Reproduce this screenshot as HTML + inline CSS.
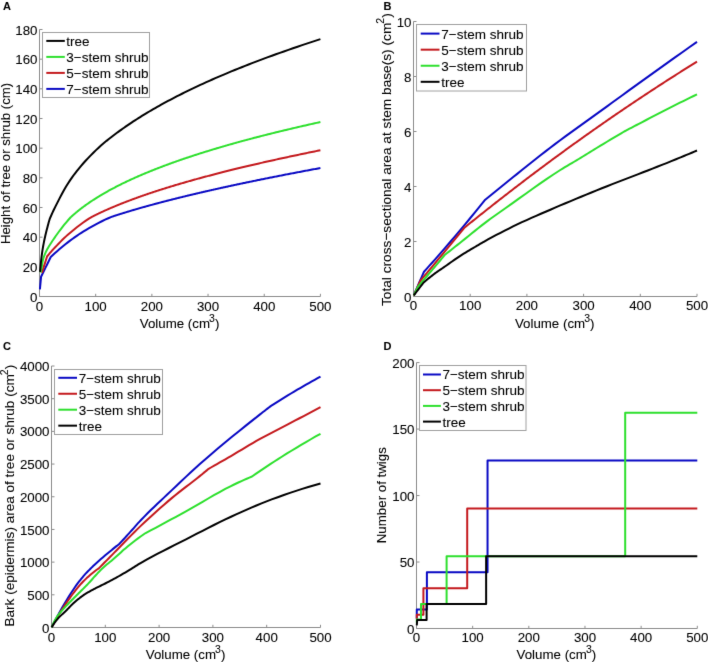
<!DOCTYPE html>
<html><head><meta charset="utf-8"><style>
html,body{margin:0;padding:0;background:#fff;}
svg{display:block;}
text{font-family:"Liberation Sans", sans-serif;fill:#000;stroke:#000;stroke-width:0.08;}
</style></head><body>
<svg width="708" height="662" viewBox="0 0 708 662">
<defs><filter id="bl" x="-5%" y="-5%" width="110%" height="110%" color-interpolation-filters="sRGB"><feConvolveMatrix order="3" kernelMatrix="0.00640 0.06720 0.00640 0.06720 0.70560 0.06720 0.00640 0.06720 0.00640" divisor="1" edgeMode="duplicate" preserveAlpha="false"/></filter></defs>
<g filter="url(#bl)">
<rect width="708" height="662" fill="#fff"/>
<path d="M39.50,29.50V296.50H320.40" fill="none" stroke="#8c8c8c" stroke-width="1"/>
<path d="M39.50,296.50h3M39.50,266.83h3M39.50,237.17h3M39.50,207.50h3M39.50,177.83h3M39.50,148.17h3M39.50,118.50h3M39.50,88.83h3M39.50,59.17h3M39.50,29.50h3M39.50,296.50v-2.7M95.68,296.50v-2.7M151.86,296.50v-2.7M208.04,296.50v-2.7M264.22,296.50v-2.7M320.40,296.50v-2.7" fill="none" stroke="#8c8c8c" stroke-width="1"/>
<text x="37.50" y="301.60" text-anchor="end" font-size="13.3">0</text>
<text x="37.50" y="271.93" text-anchor="end" font-size="13.3">20</text>
<text x="37.50" y="242.27" text-anchor="end" font-size="13.3">40</text>
<text x="37.50" y="212.60" text-anchor="end" font-size="13.3">60</text>
<text x="37.50" y="182.93" text-anchor="end" font-size="13.3">80</text>
<text x="37.50" y="153.27" text-anchor="end" font-size="13.3">100</text>
<text x="37.50" y="123.60" text-anchor="end" font-size="13.3">120</text>
<text x="37.50" y="93.93" text-anchor="end" font-size="13.3">140</text>
<text x="37.50" y="64.27" text-anchor="end" font-size="13.3">160</text>
<text x="37.50" y="34.60" text-anchor="end" font-size="13.3">180</text>
<text x="39.50" y="311.00" text-anchor="middle" font-size="13.3">0</text>
<text x="95.68" y="311.00" text-anchor="middle" font-size="13.3">100</text>
<text x="151.86" y="311.00" text-anchor="middle" font-size="13.3">200</text>
<text x="208.04" y="311.00" text-anchor="middle" font-size="13.3">300</text>
<text x="264.22" y="311.00" text-anchor="middle" font-size="13.3">400</text>
<text x="320.40" y="311.00" text-anchor="middle" font-size="13.3">500</text>
<path d="M39.89,289.38 L40.04,287.80 L40.19,286.23 L40.34,284.65 L40.48,283.08 L40.63,281.50 L40.78,279.92 L40.93,278.35 L41.07,276.77 L42.28,274.31 L43.49,271.84 L44.70,269.37 L45.90,266.91 L47.11,264.44 L48.32,261.98 L49.53,259.51 L50.74,257.04 L52.87,255.05 L55.01,253.09 L57.14,251.18 L59.28,249.31 L61.41,247.50 L63.55,245.73 L65.68,244.02 L67.81,242.36 L70.06,240.66 L72.31,239.00 L74.56,237.39 L76.80,235.82 L79.05,234.29 L81.30,232.82 L83.55,231.41 L85.79,230.05 L89.01,228.17 L92.22,226.34 L95.44,224.57 L98.66,222.87 L101.87,221.24 L105.09,219.68 L108.31,218.22 L111.52,216.84 L111.83,216.74 L112.15,216.64 L112.46,216.54 L112.77,216.43 L113.08,216.33 L113.39,216.23 L113.70,216.13 L114.02,216.02 L114.34,215.92 L114.66,215.81 L114.98,215.71 L115.31,215.61 L115.63,215.50 L115.95,215.40 L116.27,215.29 L116.59,215.19 L116.93,215.08 L117.26,214.98 L117.60,214.87 L117.93,214.76 L118.26,214.66 L118.60,214.55 L118.93,214.44 L119.26,214.34 L119.61,214.23 L119.95,214.12 L120.30,214.01 L120.64,213.90 L120.99,213.79 L121.33,213.69 L121.68,213.58 L122.02,213.47 L122.38,213.36 L122.74,213.25 L123.09,213.14 L123.45,213.03 L123.81,212.92 L124.17,212.81 L124.52,212.70 L124.88,212.59 L125.25,212.47 L125.62,212.36 L125.99,212.25 L126.36,212.13 L126.73,212.02 L127.10,211.91 L127.47,211.80 L127.83,211.69 L128.22,211.57 L128.60,211.45 L128.98,211.34 L129.36,211.22 L129.75,211.11 L130.13,211.00 L130.51,210.88 L130.89,210.77 L131.29,210.65 L131.68,210.53 L132.08,210.41 L132.47,210.30 L132.87,210.18 L133.26,210.06 L133.66,209.95 L134.06,209.83 L134.46,209.71 L134.87,209.59 L135.28,209.47 L135.69,209.35 L136.10,209.23 L136.51,209.12 L136.92,209.00 L137.33,208.88 L137.75,208.76 L138.17,208.63 L138.60,208.51 L139.02,208.39 L139.44,208.27 L139.87,208.15 L140.29,208.03 L140.71,207.91 L141.15,207.78 L141.59,207.66 L142.03,207.53 L142.47,207.41 L142.90,207.29 L143.34,207.16 L143.78,207.04 L144.22,206.92 L144.67,206.79 L145.12,206.66 L145.58,206.54 L146.03,206.41 L146.48,206.28 L146.94,206.16 L147.39,206.03 L147.84,205.91 L148.31,205.78 L148.78,205.65 L149.25,205.52 L149.72,205.39 L150.18,205.26 L150.65,205.13 L151.12,205.01 L151.59,204.88 L152.08,204.75 L152.56,204.61 L153.05,204.48 L153.53,204.35 L154.02,204.22 L154.50,204.09 L154.99,203.96 L155.47,203.83 L155.97,203.70 L156.47,203.56 L156.98,203.43 L157.48,203.29 L157.98,203.16 L158.48,203.03 L158.98,202.89 L159.48,202.76 L160.00,202.62 L160.52,202.49 L161.04,202.35 L161.56,202.21 L162.08,202.08 L162.60,201.94 L163.12,201.81 L163.64,201.67 L164.17,201.53 L164.71,201.39 L165.25,201.25 L165.79,201.11 L166.32,200.98 L166.86,200.84 L167.40,200.70 L167.93,200.56 L168.49,200.42 L169.05,200.28 L169.60,200.14 L170.16,199.99 L170.71,199.85 L171.27,199.71 L171.82,199.57 L172.38,199.43 L172.95,199.28 L173.53,199.14 L174.10,199.00 L174.68,198.85 L175.25,198.71 L175.83,198.56 L176.40,198.42 L176.98,198.28 L177.57,198.13 L178.17,197.98 L178.76,197.83 L179.36,197.69 L179.95,197.54 L180.55,197.39 L181.14,197.25 L181.74,197.10 L182.35,196.95 L182.97,196.80 L183.58,196.65 L184.20,196.50 L184.81,196.35 L185.43,196.20 L186.04,196.05 L186.66,195.90 L187.30,195.75 L187.93,195.59 L188.57,195.44 L189.21,195.29 L189.84,195.13 L190.48,194.98 L191.12,194.83 L191.75,194.68 L192.41,194.52 L193.07,194.36 L193.73,194.21 L194.39,194.05 L195.05,193.90 L195.70,193.74 L196.36,193.59 L197.02,193.43 L197.70,193.27 L198.39,193.11 L199.07,192.95 L199.75,192.79 L200.43,192.64 L201.11,192.48 L201.79,192.32 L202.47,192.16 L203.18,192.00 L203.88,191.84 L204.59,191.67 L205.29,191.51 L206.00,191.35 L206.70,191.19 L207.41,191.03 L208.11,190.87 L208.84,190.70 L209.57,190.53 L210.30,190.37 L211.03,190.20 L211.76,190.04 L212.49,189.87 L213.22,189.71 L213.95,189.54 L214.71,189.38 L215.46,189.21 L216.22,189.04 L216.97,188.87 L217.72,188.70 L218.48,188.53 L219.23,188.36 L219.99,188.20 L220.77,188.02 L221.55,187.85 L222.33,187.68 L223.11,187.51 L223.89,187.34 L224.67,187.17 L225.45,186.99 L226.24,186.82 L227.04,186.65 L227.85,186.47 L228.66,186.30 L229.47,186.12 L230.28,185.95 L231.08,185.77 L231.89,185.60 L232.70,185.42 L233.53,185.24 L234.37,185.06 L235.21,184.89 L236.04,184.71 L236.88,184.53 L237.71,184.35 L238.55,184.17 L239.39,183.99 L240.25,183.81 L241.12,183.63 L241.98,183.45 L242.84,183.26 L243.71,183.08 L244.57,182.90 L245.44,182.72 L246.30,182.54 L247.20,182.35 L248.09,182.16 L248.99,181.98 L249.88,181.79 L250.78,181.61 L251.67,181.42 L252.57,181.24 L253.46,181.05 L254.39,180.86 L255.31,180.67 L256.24,180.48 L257.16,180.29 L258.09,180.10 L259.02,179.91 L259.94,179.73 L260.87,179.54 L261.82,179.34 L262.78,179.15 L263.74,178.95 L264.70,178.76 L265.66,178.57 L266.61,178.38 L267.57,178.18 L268.53,177.99 L269.52,177.79 L270.51,177.60 L271.50,177.40 L272.49,177.20 L273.48,177.00 L274.47,176.81 L275.46,176.61 L276.46,176.41 L277.48,176.21 L278.51,176.01 L279.53,175.81 L280.56,175.61 L281.58,175.41 L282.61,175.21 L283.63,175.01 L284.66,174.81 L285.72,174.60 L286.78,174.39 L287.84,174.19 L288.90,173.98 L289.96,173.78 L291.02,173.57 L292.08,173.37 L293.14,173.17 L294.24,172.96 L295.34,172.75 L296.43,172.54 L297.53,172.33 L298.63,172.12 L299.73,171.91 L300.82,171.70 L301.92,171.49 L303.06,171.28 L304.19,171.06 L305.33,170.85 L306.46,170.64 L307.60,170.42 L308.73,170.21 L309.87,170.00 L311.00,169.79 L312.18,169.57 L313.35,169.35 L314.53,169.13 L315.70,168.91 L316.88,168.69 L318.05,168.48 L319.23,168.26 L320.40,168.04" fill="none" stroke="#0909c4" stroke-width="2" stroke-linejoin="round"/>
<path d="M41.92,272.77 L42.56,270.73 L43.21,268.69 L43.85,266.65 L44.50,264.61 L45.15,262.57 L45.79,260.53 L46.44,258.49 L47.08,256.45 L47.87,255.51 L48.66,254.57 L49.44,253.64 L50.23,252.72 L51.02,251.81 L51.80,250.92 L52.59,250.04 L53.38,249.18 L55.18,247.24 L56.99,245.32 L58.79,243.44 L60.60,241.59 L62.40,239.80 L64.21,238.06 L66.01,236.39 L67.81,234.79 L70.83,232.23 L73.84,229.73 L76.85,227.31 L79.87,224.99 L82.88,222.77 L85.89,220.66 L88.90,218.69 L91.92,216.84 L92.20,216.70 L92.48,216.56 L92.76,216.41 L93.04,216.27 L93.32,216.13 L93.60,215.99 L93.88,215.85 L94.16,215.71 L94.46,215.56 L94.75,215.41 L95.04,215.27 L95.33,215.12 L95.63,214.98 L95.92,214.83 L96.21,214.69 L96.51,214.55 L96.81,214.40 L97.12,214.25 L97.42,214.10 L97.73,213.95 L98.03,213.80 L98.34,213.66 L98.64,213.51 L98.95,213.37 L99.27,213.21 L99.59,213.06 L99.90,212.91 L100.22,212.76 L100.54,212.61 L100.86,212.46 L101.18,212.31 L101.50,212.16 L101.83,212.01 L102.16,211.86 L102.49,211.70 L102.83,211.55 L103.16,211.40 L103.49,211.24 L103.82,211.09 L104.15,210.94 L104.50,210.78 L104.85,210.63 L105.19,210.47 L105.54,210.31 L105.89,210.16 L106.23,210.00 L106.58,209.85 L106.93,209.70 L107.29,209.53 L107.65,209.38 L108.01,209.22 L108.37,209.06 L108.73,208.90 L109.09,208.74 L109.45,208.58 L109.82,208.43 L110.19,208.26 L110.57,208.10 L110.95,207.94 L111.32,207.78 L111.70,207.62 L112.08,207.46 L112.45,207.30 L112.83,207.14 L113.22,206.97 L113.62,206.80 L114.01,206.64 L114.40,206.47 L114.79,206.31 L115.19,206.15 L115.58,205.98 L115.97,205.82 L116.38,205.65 L116.79,205.48 L117.20,205.32 L117.61,205.15 L118.02,204.98 L118.43,204.81 L118.84,204.65 L119.25,204.48 L119.68,204.31 L120.11,204.14 L120.53,203.97 L120.96,203.80 L121.39,203.63 L121.81,203.46 L122.24,203.29 L122.67,203.12 L123.11,202.94 L123.56,202.77 L124.01,202.59 L124.45,202.42 L124.90,202.25 L125.34,202.07 L125.79,201.90 L126.23,201.73 L126.70,201.55 L127.16,201.37 L127.63,201.20 L128.09,201.02 L128.56,200.84 L129.02,200.67 L129.49,200.49 L129.95,200.32 L130.44,200.14 L130.92,199.95 L131.41,199.77 L131.89,199.59 L132.37,199.41 L132.86,199.23 L133.34,199.06 L133.83,198.88 L134.33,198.69 L134.84,198.51 L135.35,198.32 L135.85,198.14 L136.36,197.96 L136.86,197.77 L137.37,197.59 L137.87,197.41 L138.40,197.22 L138.93,197.03 L139.45,196.85 L139.98,196.66 L140.51,196.47 L141.03,196.29 L141.56,196.10 L142.09,195.92 L142.64,195.72 L143.19,195.53 L143.74,195.34 L144.29,195.15 L144.84,194.96 L145.39,194.77 L145.94,194.58 L146.49,194.40 L147.06,194.20 L147.63,194.00 L148.21,193.81 L148.78,193.62 L149.35,193.42 L149.93,193.23 L150.50,193.04 L151.07,192.85 L151.67,192.65 L152.27,192.45 L152.86,192.25 L153.46,192.05 L154.06,191.86 L154.66,191.66 L155.26,191.46 L155.85,191.27 L156.48,191.06 L157.10,190.86 L157.72,190.66 L158.35,190.46 L158.97,190.26 L159.59,190.06 L160.22,189.86 L160.84,189.66 L161.49,189.45 L162.14,189.25 L162.79,189.04 L163.44,188.84 L164.09,188.63 L164.74,188.43 L165.39,188.22 L166.04,188.02 L166.72,187.81 L167.40,187.60 L168.08,187.39 L168.75,187.18 L169.43,186.97 L170.11,186.77 L170.79,186.56 L171.47,186.35 L172.17,186.14 L172.88,185.92 L173.59,185.71 L174.29,185.50 L175.00,185.29 L175.71,185.07 L176.42,184.86 L177.12,184.65 L177.86,184.43 L178.60,184.22 L179.33,184.00 L180.07,183.78 L180.81,183.56 L181.55,183.35 L182.28,183.13 L183.02,182.92 L183.79,182.70 L184.56,182.47 L185.33,182.25 L186.10,182.03 L186.87,181.81 L187.64,181.59 L188.40,181.37 L189.17,181.15 L189.97,180.93 L190.78,180.70 L191.58,180.48 L192.38,180.25 L193.18,180.03 L193.98,179.80 L194.79,179.58 L195.59,179.36 L196.42,179.13 L197.26,178.89 L198.10,178.66 L198.93,178.44 L199.77,178.21 L200.61,177.98 L201.44,177.75 L202.28,177.52 L203.15,177.29 L204.02,177.05 L204.90,176.82 L205.77,176.59 L206.64,176.35 L207.51,176.12 L208.38,175.89 L209.26,175.66 L210.17,175.42 L211.08,175.18 L211.98,174.94 L212.89,174.70 L213.80,174.46 L214.71,174.23 L215.62,173.99 L216.53,173.75 L217.48,173.51 L218.43,173.27 L219.38,173.02 L220.33,172.78 L221.27,172.54 L222.22,172.30 L223.17,172.05 L224.12,171.81 L225.11,171.57 L226.10,171.32 L227.09,171.07 L228.08,170.82 L229.07,170.57 L230.06,170.33 L231.04,170.08 L232.03,169.84 L233.07,169.58 L234.10,169.33 L235.13,169.08 L236.16,168.83 L237.19,168.57 L238.22,168.32 L239.25,168.07 L240.29,167.82 L241.36,167.57 L242.44,167.31 L243.51,167.05 L244.59,166.79 L245.67,166.54 L246.74,166.28 L247.82,166.03 L248.89,165.77 L250.01,165.51 L251.14,165.24 L252.26,164.98 L253.38,164.72 L254.50,164.46 L255.62,164.20 L256.75,163.94 L257.87,163.68 L259.04,163.41 L260.21,163.14 L261.38,162.87 L262.55,162.61 L263.72,162.34 L264.89,162.08 L266.06,161.81 L267.23,161.55 L268.45,161.27 L269.67,161.00 L270.89,160.73 L272.11,160.45 L273.33,160.18 L274.55,159.91 L275.77,159.64 L276.99,159.37 L278.26,159.09 L279.53,158.81 L280.81,158.54 L282.08,158.26 L283.35,157.98 L284.62,157.71 L285.90,157.43 L287.17,157.16 L288.50,156.87 L289.82,156.59 L291.15,156.30 L292.48,156.02 L293.80,155.74 L295.13,155.46 L296.46,155.18 L297.78,154.90 L299.17,154.61 L300.55,154.32 L301.94,154.03 L303.32,153.74 L304.70,153.45 L306.09,153.17 L307.47,152.88 L308.85,152.59 L310.30,152.30 L311.74,152.00 L313.18,151.71 L314.63,151.41 L316.07,151.12 L317.51,150.83 L318.96,150.54 L320.40,150.25" fill="none" stroke="#c41a1e" stroke-width="2" stroke-linejoin="round"/>
<path d="M40.51,272.47 L40.58,272.19 L40.65,271.90 L40.72,271.62 L40.79,271.33 L40.86,271.03 L40.93,270.73 L41.00,270.42 L41.07,270.10 L41.33,268.86 L41.58,267.49 L41.83,266.06 L42.08,264.59 L42.34,263.15 L42.59,261.77 L42.84,260.51 L43.10,259.42 L43.21,258.98 L43.32,258.57 L43.43,258.17 L43.54,257.79 L43.66,257.43 L43.77,257.09 L43.88,256.76 L43.99,256.45 L44.27,255.75 L44.54,255.05 L44.82,254.37 L45.09,253.70 L45.36,253.05 L45.64,252.42 L45.91,251.83 L46.19,251.26 L46.84,249.99 L47.49,248.79 L48.14,247.66 L48.80,246.58 L49.45,245.54 L50.10,244.52 L50.76,243.52 L51.41,242.51 L52.50,240.83 L53.59,239.19 L54.68,237.59 L55.76,236.02 L56.85,234.48 L57.94,232.97 L59.03,231.49 L60.12,230.05 L61.44,228.33 L62.76,226.64 L64.08,224.99 L65.40,223.37 L66.72,221.79 L68.04,220.25 L69.36,218.75 L70.68,217.29 L70.90,217.09 L71.12,216.88 L71.34,216.68 L71.56,216.48 L71.78,216.28 L72.00,216.08 L72.22,215.88 L72.44,215.69 L72.67,215.48 L72.91,215.27 L73.14,215.07 L73.37,214.86 L73.60,214.66 L73.84,214.46 L74.07,214.25 L74.30,214.05 L74.55,213.84 L74.79,213.63 L75.04,213.42 L75.29,213.21 L75.53,213.00 L75.78,212.80 L76.02,212.59 L76.27,212.39 L76.53,212.17 L76.79,211.96 L77.05,211.74 L77.31,211.53 L77.57,211.32 L77.83,211.11 L78.09,210.90 L78.35,210.69 L78.62,210.47 L78.89,210.25 L79.17,210.03 L79.44,209.81 L79.72,209.60 L79.99,209.38 L80.27,209.17 L80.54,208.96 L80.83,208.73 L81.12,208.51 L81.41,208.29 L81.70,208.07 L81.99,207.85 L82.28,207.63 L82.57,207.41 L82.86,207.19 L83.16,206.96 L83.47,206.74 L83.78,206.51 L84.08,206.28 L84.39,206.06 L84.70,205.84 L85.00,205.61 L85.31,205.39 L85.63,205.16 L85.96,204.93 L86.28,204.70 L86.60,204.47 L86.93,204.24 L87.25,204.01 L87.57,203.78 L87.90,203.56 L88.24,203.32 L88.58,203.08 L88.92,202.85 L89.26,202.62 L89.60,202.38 L89.95,202.15 L90.29,201.92 L90.63,201.69 L90.99,201.45 L91.35,201.21 L91.71,200.97 L92.07,200.73 L92.44,200.49 L92.80,200.25 L93.16,200.02 L93.52,199.78 L93.90,199.54 L94.28,199.29 L94.66,199.05 L95.04,198.80 L95.43,198.56 L95.81,198.32 L96.19,198.08 L96.57,197.84 L96.97,197.59 L97.38,197.34 L97.78,197.09 L98.18,196.84 L98.59,196.60 L98.99,196.35 L99.39,196.11 L99.79,195.86 L100.22,195.61 L100.65,195.35 L101.07,195.10 L101.50,194.84 L101.92,194.59 L102.35,194.34 L102.77,194.09 L103.20,193.84 L103.65,193.58 L104.10,193.32 L104.55,193.06 L105.00,192.81 L105.45,192.55 L105.90,192.29 L106.35,192.04 L106.80,191.79 L107.27,191.52 L107.75,191.26 L108.23,190.99 L108.70,190.73 L109.18,190.47 L109.65,190.21 L110.13,189.95 L110.60,189.69 L111.10,189.42 L111.61,189.15 L112.11,188.88 L112.61,188.61 L113.11,188.35 L113.61,188.08 L114.12,187.82 L114.62,187.55 L115.15,187.28 L115.68,187.00 L116.21,186.73 L116.74,186.46 L117.27,186.18 L117.80,185.91 L118.33,185.64 L118.86,185.38 L119.42,185.09 L119.98,184.81 L120.54,184.53 L121.10,184.26 L121.66,183.98 L122.22,183.70 L122.78,183.43 L123.35,183.16 L123.94,182.87 L124.53,182.58 L125.12,182.30 L125.71,182.02 L126.31,181.73 L126.90,181.45 L127.49,181.17 L128.08,180.89 L128.71,180.60 L129.33,180.31 L129.96,180.02 L130.58,179.73 L131.21,179.44 L131.84,179.16 L132.46,178.87 L133.09,178.59 L133.75,178.29 L134.41,177.99 L135.07,177.70 L135.73,177.40 L136.39,177.11 L137.05,176.82 L137.71,176.53 L138.37,176.24 L139.07,175.94 L139.77,175.63 L140.47,175.33 L141.17,175.03 L141.86,174.73 L142.56,174.44 L143.26,174.14 L143.96,173.85 L144.70,173.54 L145.43,173.23 L146.17,172.92 L146.91,172.61 L147.65,172.31 L148.39,172.01 L149.12,171.71 L149.86,171.41 L150.64,171.09 L151.42,170.78 L152.20,170.46 L152.98,170.15 L153.76,169.84 L154.54,169.53 L155.32,169.22 L156.10,168.92 L156.92,168.60 L157.74,168.28 L158.57,167.96 L159.39,167.64 L160.21,167.32 L161.04,167.01 L161.86,166.70 L162.68,166.38 L163.55,166.06 L164.42,165.73 L165.29,165.41 L166.16,165.08 L167.03,164.76 L167.90,164.44 L168.77,164.12 L169.64,163.80 L170.56,163.47 L171.48,163.14 L172.40,162.80 L173.32,162.47 L174.24,162.15 L175.16,161.82 L176.07,161.49 L176.99,161.17 L177.96,160.83 L178.94,160.49 L179.91,160.15 L180.88,159.82 L181.85,159.48 L182.82,159.15 L183.79,158.82 L184.76,158.49 L185.79,158.14 L186.81,157.80 L187.84,157.45 L188.86,157.11 L189.89,156.77 L190.92,156.43 L191.94,156.09 L192.97,155.76 L194.05,155.40 L195.13,155.05 L196.22,154.70 L197.30,154.35 L198.39,154.00 L199.47,153.66 L200.55,153.31 L201.64,152.97 L202.78,152.61 L203.93,152.25 L205.07,151.90 L206.22,151.54 L207.36,151.19 L208.51,150.83 L209.65,150.48 L210.80,150.13 L212.01,149.77 L213.22,149.40 L214.43,149.04 L215.64,148.68 L216.85,148.31 L218.05,147.96 L219.26,147.60 L220.47,147.24 L221.75,146.87 L223.03,146.50 L224.31,146.13 L225.59,145.76 L226.86,145.39 L228.14,145.02 L229.42,144.66 L230.70,144.30 L232.05,143.92 L233.40,143.54 L234.75,143.16 L236.10,142.78 L237.45,142.41 L238.80,142.04 L240.15,141.66 L241.50,141.30 L242.93,140.91 L244.35,140.52 L245.78,140.14 L247.21,139.75 L248.63,139.37 L250.06,138.99 L251.48,138.61 L252.91,138.24 L254.42,137.84 L255.93,137.45 L257.43,137.05 L258.94,136.66 L260.45,136.28 L261.95,135.89 L263.46,135.50 L264.97,135.12 L266.56,134.72 L268.15,134.32 L269.74,133.92 L271.34,133.52 L272.93,133.12 L274.52,132.73 L276.11,132.34 L277.71,131.95 L279.39,131.53 L281.07,131.13 L282.75,130.72 L284.43,130.31 L286.12,129.91 L287.80,129.51 L289.48,129.11 L291.16,128.71 L292.94,128.29 L294.72,127.87 L296.49,127.46 L298.27,127.05 L300.05,126.64 L301.83,126.23 L303.60,125.82 L305.38,125.41 L307.26,124.99 L309.13,124.56 L311.01,124.14 L312.89,123.72 L314.77,123.30 L316.64,122.88 L318.52,122.47 L320.40,122.06" fill="none" stroke="#2ee02e" stroke-width="2" stroke-linejoin="round"/>
<path d="M40.01,271.88 L40.24,269.30 L40.48,266.80 L40.72,264.40 L40.96,262.09 L41.20,259.90 L41.44,257.83 L41.68,255.89 L41.92,254.08 L42.16,252.34 L42.41,250.70 L42.65,249.15 L42.90,247.68 L43.14,246.27 L43.39,244.93 L43.64,243.62 L43.88,242.36 L44.25,240.55 L44.61,238.82 L44.98,237.16 L45.34,235.57 L45.71,234.03 L46.07,232.53 L46.44,231.06 L46.80,229.60 L47.18,228.14 L47.55,226.70 L47.92,225.30 L48.29,223.93 L48.66,222.59 L49.04,221.28 L49.41,220.01 L49.78,218.77 L50.27,217.64 L50.76,216.51 L51.26,215.38 L51.75,214.27 L52.24,213.17 L52.73,212.10 L53.22,211.04 L53.71,210.02 L55.75,205.89 L57.79,201.83 L59.82,197.86 L61.86,194.02 L63.90,190.33 L65.93,186.80 L67.97,183.47 L70.01,180.36 L72.27,177.11 L74.53,174.02 L76.79,171.09 L79.05,168.28 L81.31,165.59 L83.57,163.01 L85.83,160.52 L88.10,158.11 L90.73,155.37 L93.36,152.71 L96.00,150.13 L98.63,147.65 L101.26,145.27 L103.90,143.00 L106.53,140.85 L109.16,138.82 L110.47,137.80 L111.77,136.78 L113.07,135.78 L114.37,134.78 L115.68,133.79 L116.98,132.82 L118.28,131.86 L119.59,130.90 L121.08,129.82 L122.58,128.75 L124.08,127.70 L125.58,126.65 L127.08,125.62 L128.57,124.60 L130.07,123.59 L131.57,122.59 L133.29,121.45 L135.01,120.33 L136.73,119.22 L138.46,118.12 L140.18,117.04 L141.90,115.97 L143.62,114.91 L145.34,113.86 L147.32,112.66 L149.30,111.49 L151.28,110.32 L153.26,109.17 L155.24,108.03 L157.22,106.90 L159.20,105.79 L161.18,104.69 L163.46,103.43 L165.73,102.20 L168.01,100.97 L170.28,99.76 L172.56,98.57 L174.84,97.38 L177.11,96.21 L179.39,95.06 L182.00,93.74 L184.62,92.44 L187.24,91.15 L189.85,89.88 L192.47,88.63 L195.08,87.38 L197.70,86.16 L200.32,84.94 L203.32,83.56 L206.33,82.19 L209.34,80.84 L212.35,79.51 L215.36,78.19 L218.36,76.88 L221.37,75.59 L224.38,74.32 L227.84,72.87 L231.29,71.43 L234.75,70.02 L238.21,68.61 L241.67,67.23 L245.13,65.86 L248.58,64.50 L252.04,63.16 L256.02,61.64 L259.99,60.13 L263.97,58.64 L267.94,57.17 L271.92,55.72 L275.89,54.28 L279.87,52.85 L283.84,51.45 L288.41,49.85 L292.98,48.26 L297.55,46.69 L302.12,45.14 L306.69,43.61 L311.26,42.10 L315.83,40.61 L320.40,39.14" fill="none" stroke="#000000" stroke-width="2" stroke-linejoin="round"/>
<rect x="42.5" y="32.5" width="107.00" height="65.00" fill="#fff" stroke="#a0a0a0" stroke-width="1"/>
<line x1="46.3" y1="40.90" x2="64.8" y2="40.90" stroke="#000000" stroke-width="2"/>
<text x="66.3" y="45.80" font-size="13.5">tree</text>
<line x1="46.3" y1="56.90" x2="64.8" y2="56.90" stroke="#2ee02e" stroke-width="2"/>
<text x="66.3" y="61.80" font-size="13.5">3−stem shrub</text>
<line x1="46.3" y1="72.90" x2="64.8" y2="72.90" stroke="#c41a1e" stroke-width="2"/>
<text x="66.3" y="77.80" font-size="13.5">5−stem shrub</text>
<line x1="46.3" y1="88.90" x2="64.8" y2="88.90" stroke="#0909c4" stroke-width="2"/>
<text x="66.3" y="93.80" font-size="13.5">7−stem shrub</text>
<path d="M413.50,21.50V296.50H697.00" fill="none" stroke="#8c8c8c" stroke-width="1"/>
<path d="M413.50,296.50h3M413.50,241.50h3M413.50,186.50h3M413.50,131.50h3M413.50,76.50h3M413.50,21.50h3M413.50,296.50v-2.7M470.20,296.50v-2.7M526.90,296.50v-2.7M583.60,296.50v-2.7M640.30,296.50v-2.7M697.00,296.50v-2.7" fill="none" stroke="#8c8c8c" stroke-width="1"/>
<text x="411.50" y="301.60" text-anchor="end" font-size="13.3">0</text>
<text x="411.50" y="246.60" text-anchor="end" font-size="13.3">2</text>
<text x="411.50" y="191.60" text-anchor="end" font-size="13.3">4</text>
<text x="411.50" y="136.60" text-anchor="end" font-size="13.3">6</text>
<text x="411.50" y="81.60" text-anchor="end" font-size="13.3">8</text>
<text x="411.50" y="26.60" text-anchor="end" font-size="13.3">10</text>
<text x="413.50" y="310.30" text-anchor="middle" font-size="13.3">0</text>
<text x="470.20" y="310.30" text-anchor="middle" font-size="13.3">100</text>
<text x="526.90" y="310.30" text-anchor="middle" font-size="13.3">200</text>
<text x="583.60" y="310.30" text-anchor="middle" font-size="13.3">300</text>
<text x="640.30" y="310.30" text-anchor="middle" font-size="13.3">400</text>
<text x="697.00" y="310.30" text-anchor="middle" font-size="13.3">500</text>
<path d="M413.78,295.12 L415.06,292.20 L416.33,289.28 L417.61,286.36 L418.89,283.44 L420.16,280.52 L421.44,277.59 L422.71,274.67 L423.99,271.75 L426.60,268.85 L429.22,265.94 L431.84,263.01 L434.45,260.07 L437.07,257.11 L439.68,254.13 L442.30,251.12 L444.91,248.10 L449.95,242.23 L454.99,236.31 L460.03,230.35 L465.07,224.33 L470.11,218.26 L475.15,212.14 L480.19,205.95 L485.23,199.70 L489.22,196.43 L493.22,193.18 L497.22,189.93 L501.21,186.69 L505.21,183.47 L509.21,180.25 L513.21,177.04 L517.20,173.85 L521.92,170.08 L526.64,166.31 L531.37,162.55 L536.09,158.80 L540.81,155.08 L545.53,151.39 L550.25,147.74 L554.97,144.15 L560.18,140.25 L565.39,136.41 L570.59,132.62 L575.80,128.87 L581.01,125.13 L586.22,121.40 L591.43,117.66 L596.64,113.90 L601.86,110.11 L607.07,106.32 L612.29,102.53 L617.51,98.74 L622.72,94.96 L627.94,91.18 L633.16,87.41 L638.37,83.65 L645.70,78.38 L653.03,73.13 L660.36,67.89 L667.69,62.65 L675.01,57.43 L682.34,52.23 L689.67,47.03 L697.00,41.85" fill="none" stroke="#0909c4" stroke-width="2" stroke-linejoin="round"/>
<path d="M413.78,295.40 L414.62,293.54 L415.46,291.69 L416.29,289.83 L417.13,287.98 L417.97,286.12 L418.80,284.26 L419.64,282.41 L420.47,280.55 L423.53,276.93 L426.58,273.30 L429.64,269.67 L432.69,266.03 L435.75,262.38 L438.80,258.73 L441.86,255.07 L444.91,251.40 L447.39,248.43 L449.86,245.45 L452.33,242.46 L454.81,239.47 L457.28,236.48 L459.75,233.48 L462.23,230.48 L464.70,227.48 L465.91,226.49 L467.12,225.51 L468.33,224.54 L469.54,223.56 L470.75,222.59 L471.96,221.61 L473.17,220.64 L474.38,219.67 L475.59,218.70 L476.80,217.73 L478.01,216.77 L479.22,215.80 L480.43,214.84 L481.64,213.87 L482.85,212.91 L484.06,211.95 L485.27,210.99 L486.48,210.03 L487.69,209.07 L488.90,208.12 L490.11,207.16 L491.32,206.21 L492.53,205.25 L493.74,204.30 L494.95,203.35 L496.16,202.40 L497.37,201.46 L498.58,200.51 L499.79,199.56 L501.00,198.62 L502.21,197.68 L503.42,196.73 L504.63,195.79 L505.84,194.85 L507.05,193.92 L508.26,192.98 L509.47,192.04 L510.68,191.11 L511.89,190.18 L513.10,189.24 L514.31,188.31 L515.52,187.38 L516.73,186.46 L517.94,185.53 L519.15,184.60 L520.36,183.68 L521.57,182.75 L522.78,181.83 L523.98,180.91 L525.19,179.99 L526.40,179.07 L527.61,178.15 L528.82,177.24 L530.03,176.32 L531.24,175.41 L532.45,174.50 L533.66,173.58 L534.87,172.67 L536.08,171.76 L537.29,170.86 L538.50,169.95 L539.71,169.04 L540.92,168.14 L542.13,167.24 L543.34,166.34 L544.55,165.44 L545.76,164.54 L546.97,163.64 L548.18,162.74 L549.39,161.84 L550.60,160.95 L551.81,160.06 L553.02,159.17 L554.23,158.27 L555.44,157.38 L556.65,156.50 L557.86,155.61 L559.07,154.72 L560.28,153.84 L561.49,152.95 L562.70,152.07 L563.91,151.19 L565.12,150.31 L566.33,149.43 L567.54,148.55 L568.75,147.68 L569.96,146.80 L571.17,145.93 L572.38,145.06 L573.59,144.18 L574.80,143.31 L576.01,142.45 L577.22,141.58 L578.43,140.71 L579.64,139.84 L580.85,138.98 L582.06,138.12 L583.27,137.26 L584.48,136.40 L585.69,135.54 L586.90,134.68 L588.11,133.82 L589.32,132.96 L590.53,132.11 L591.74,131.26 L592.95,130.40 L594.16,129.55 L595.37,128.70 L596.58,127.86 L597.79,127.01 L599.00,126.16 L600.21,125.32 L601.42,124.47 L602.63,123.63 L603.84,122.79 L605.05,121.95 L606.26,121.11 L607.47,120.27 L608.68,119.44 L609.89,118.60 L611.10,117.77 L612.31,116.94 L613.52,116.10 L614.73,115.27 L615.94,114.44 L617.15,113.62 L618.36,112.79 L619.57,111.96 L620.78,111.14 L621.99,110.32 L623.20,109.49 L624.41,108.67 L625.62,107.85 L626.83,107.04 L628.04,106.22 L629.25,105.40 L630.46,104.59 L631.67,103.78 L632.88,102.96 L634.09,102.15 L635.30,101.34 L636.51,100.53 L637.72,99.73 L638.93,98.92 L640.13,98.12 L641.34,97.31 L642.55,96.51 L643.76,95.71 L644.97,94.91 L646.18,94.11 L647.39,93.31 L648.60,92.52 L649.81,91.72 L651.02,90.93 L652.23,90.13 L653.44,89.34 L654.65,88.55 L655.86,87.76 L657.07,86.97 L658.28,86.19 L659.49,85.40 L660.70,84.62 L661.91,83.83 L663.12,83.05 L664.33,82.27 L665.54,81.49 L666.75,80.71 L667.96,79.94 L669.17,79.16 L670.38,78.39 L671.59,77.61 L672.80,76.84 L674.01,76.07 L675.22,75.30 L676.43,74.53 L677.64,73.76 L678.85,73.00 L680.06,72.23 L681.27,71.47 L682.48,70.71 L683.69,69.95 L684.90,69.19 L686.11,68.43 L687.32,67.67 L688.53,66.91 L689.74,66.16 L690.95,65.40 L692.16,64.65 L693.37,63.90 L694.58,63.15 L695.79,62.40 L697.00,61.65" fill="none" stroke="#c41a1e" stroke-width="2" stroke-linejoin="round"/>
<path d="M413.78,295.40 L414.32,294.30 L414.85,293.20 L415.38,292.10 L415.91,291.00 L416.44,289.90 L416.97,288.80 L417.50,287.70 L418.04,286.60 L419.28,285.11 L420.53,283.63 L421.78,282.15 L423.03,280.67 L424.27,279.19 L425.52,277.72 L426.77,276.24 L428.02,274.77 L429.01,273.60 L430.01,272.44 L431.01,271.27 L432.01,270.11 L433.01,268.95 L434.01,267.78 L435.01,266.61 L436.01,265.43 L437.09,264.14 L438.18,262.84 L439.26,261.54 L440.35,260.24 L441.43,258.93 L442.52,257.62 L443.60,256.30 L444.69,254.97 L446.81,253.29 L448.94,251.61 L451.06,249.93 L453.19,248.24 L455.32,246.56 L457.44,244.87 L459.57,243.19 L461.69,241.50 L464.98,238.87 L468.27,236.22 L471.56,233.56 L474.85,230.90 L478.14,228.26 L481.43,225.65 L484.72,223.10 L488.00,220.60 L490.13,219.03 L492.26,217.48 L494.38,215.96 L496.51,214.46 L498.64,212.97 L500.76,211.48 L502.89,209.99 L505.01,208.50 L511.92,203.59 L518.83,198.64 L525.74,193.69 L532.66,188.76 L539.57,183.89 L546.48,179.11 L553.39,174.47 L560.30,170.00 L562.61,168.56 L564.92,167.16 L567.23,165.79 L569.54,164.43 L571.85,163.09 L574.16,161.74 L576.47,160.38 L578.78,159.00 L581.01,157.64 L583.25,156.27 L585.48,154.89 L587.71,153.51 L589.94,152.12 L592.18,150.74 L594.41,149.36 L596.64,148.00 L600.09,145.91 L603.53,143.83 L606.97,141.75 L610.42,139.68 L613.86,137.62 L617.31,135.57 L620.75,133.53 L624.20,131.50 L625.97,130.57 L627.74,129.64 L629.51,128.71 L631.28,127.78 L633.06,126.85 L634.83,125.93 L636.60,125.00 L638.37,124.08 L642.28,122.03 L646.20,119.99 L650.11,117.94 L654.02,115.90 L657.93,113.87 L661.85,111.84 L665.76,109.84 L669.67,107.85 L673.09,106.13 L676.50,104.42 L679.92,102.72 L683.34,101.03 L686.75,99.35 L690.17,97.68 L693.58,96.02 L697.00,94.38" fill="none" stroke="#2ee02e" stroke-width="2" stroke-linejoin="round"/>
<path d="M413.78,295.40 L414.99,293.82 L416.19,292.24 L417.40,290.66 L418.60,289.07 L419.81,287.49 L421.01,285.91 L422.22,284.33 L423.42,282.75 L424.86,281.50 L426.30,280.27 L427.74,279.06 L429.18,277.88 L430.62,276.72 L432.06,275.59 L433.49,274.48 L434.93,273.40 L436.18,272.49 L437.43,271.61 L438.67,270.74 L439.92,269.90 L441.17,269.06 L442.42,268.22 L443.66,267.38 L444.91,266.52 L446.79,265.21 L448.67,263.89 L450.55,262.55 L452.42,261.22 L454.30,259.89 L456.18,258.59 L458.06,257.31 L459.94,256.07 L461.81,254.88 L463.68,253.71 L465.55,252.57 L467.42,251.44 L469.29,250.33 L471.16,249.22 L473.03,248.11 L474.91,247.00 L476.02,246.34 L477.13,245.68 L478.24,245.02 L479.36,244.37 L480.47,243.72 L481.58,243.07 L482.70,242.42 L483.81,241.78 L487.98,239.48 L492.16,237.21 L496.33,234.99 L500.51,232.80 L504.68,230.65 L508.86,228.54 L513.03,226.47 L517.20,224.45 L521.94,222.22 L526.67,220.04 L531.41,217.92 L536.14,215.83 L540.88,213.77 L545.61,211.73 L550.35,209.71 L555.08,207.68 L560.28,205.45 L565.47,203.24 L570.67,201.05 L575.86,198.87 L581.06,196.71 L586.25,194.57 L591.45,192.45 L596.64,190.35 L601.86,188.27 L607.07,186.22 L612.29,184.19 L617.51,182.18 L622.72,180.18 L627.94,178.17 L633.16,176.16 L638.37,174.12 L643.08,172.29 L647.78,170.45 L652.49,168.62 L657.20,166.78 L661.90,164.93 L666.61,163.06 L671.31,161.18 L676.02,159.28 L678.64,158.20 L681.27,157.12 L683.89,156.03 L686.51,154.93 L689.13,153.82 L691.76,152.71 L694.38,151.60 L697.00,150.47" fill="none" stroke="#000000" stroke-width="2" stroke-linejoin="round"/>
<rect x="416.5" y="24.5" width="110.00" height="66.50" fill="#fff" stroke="#a0a0a0" stroke-width="1"/>
<line x1="420.7" y1="33.60" x2="439.5" y2="33.60" stroke="#0909c4" stroke-width="2"/>
<text x="441.3" y="38.50" font-size="13.5">7−stem shrub</text>
<line x1="420.7" y1="49.67" x2="439.5" y2="49.67" stroke="#c41a1e" stroke-width="2"/>
<text x="441.3" y="54.57" font-size="13.5">5−stem shrub</text>
<line x1="420.7" y1="65.74" x2="439.5" y2="65.74" stroke="#2ee02e" stroke-width="2"/>
<text x="441.3" y="70.64" font-size="13.5">3−stem shrub</text>
<line x1="420.7" y1="81.81" x2="439.5" y2="81.81" stroke="#000000" stroke-width="2"/>
<text x="441.3" y="86.71" font-size="13.5">tree</text>
<path d="M51.50,366.00V627.50H320.50" fill="none" stroke="#8c8c8c" stroke-width="1"/>
<path d="M51.50,627.50h3M51.50,594.81h3M51.50,562.12h3M51.50,529.44h3M51.50,496.75h3M51.50,464.06h3M51.50,431.38h3M51.50,398.69h3M51.50,366.00h3M51.50,627.50v-2.7M105.30,627.50v-2.7M159.10,627.50v-2.7M212.90,627.50v-2.7M266.70,627.50v-2.7M320.50,627.50v-2.7" fill="none" stroke="#8c8c8c" stroke-width="1"/>
<text x="49.50" y="632.60" text-anchor="end" font-size="13.3">0</text>
<text x="49.50" y="599.91" text-anchor="end" font-size="13.3">500</text>
<text x="49.50" y="567.23" text-anchor="end" font-size="13.3">1000</text>
<text x="49.50" y="534.54" text-anchor="end" font-size="13.3">1500</text>
<text x="49.50" y="501.85" text-anchor="end" font-size="13.3">2000</text>
<text x="49.50" y="469.16" text-anchor="end" font-size="13.3">2500</text>
<text x="49.50" y="436.48" text-anchor="end" font-size="13.3">3000</text>
<text x="49.50" y="403.79" text-anchor="end" font-size="13.3">3500</text>
<text x="49.50" y="371.10" text-anchor="end" font-size="13.3">4000</text>
<text x="51.50" y="642.00" text-anchor="middle" font-size="13.3">0</text>
<text x="105.30" y="642.00" text-anchor="middle" font-size="13.3">100</text>
<text x="159.10" y="642.00" text-anchor="middle" font-size="13.3">200</text>
<text x="212.90" y="642.00" text-anchor="middle" font-size="13.3">300</text>
<text x="266.70" y="642.00" text-anchor="middle" font-size="13.3">400</text>
<text x="320.50" y="642.00" text-anchor="middle" font-size="13.3">500</text>
<path d="M51.66,627.30 L53.47,623.75 L55.28,620.26 L57.09,616.86 L58.90,613.52 L60.71,610.27 L62.52,607.09 L64.32,603.98 L66.13,600.96 L67.62,598.52 L69.11,596.12 L70.59,593.76 L72.08,591.45 L73.56,589.20 L75.05,587.03 L76.54,584.93 L78.02,582.91 L79.15,581.45 L80.27,580.02 L81.39,578.62 L82.52,577.27 L83.64,575.96 L84.76,574.68 L85.88,573.45 L87.01,572.26 L87.92,571.31 L88.84,570.36 L89.75,569.43 L90.67,568.50 L91.58,567.58 L92.50,566.68 L93.41,565.80 L94.32,564.94 L96.51,562.92 L98.70,560.97 L100.88,559.05 L103.07,557.18 L105.25,555.34 L107.44,553.51 L109.62,551.70 L111.81,549.90 L112.74,549.14 L113.67,548.38 L114.59,547.63 L115.52,546.89 L116.45,546.15 L117.38,545.41 L118.31,544.68 L119.23,543.95 L120.46,542.64 L121.68,541.33 L122.91,540.02 L124.13,538.70 L125.35,537.37 L126.58,536.04 L127.80,534.70 L129.03,533.36 L130.53,531.69 L132.03,530.00 L133.52,528.29 L135.02,526.58 L136.52,524.88 L138.02,523.20 L139.52,521.56 L141.02,519.96 L144.30,516.58 L147.57,513.29 L150.85,510.08 L154.12,506.92 L157.40,503.81 L160.67,500.71 L163.95,497.63 L167.22,494.53 L171.88,490.10 L176.54,485.67 L181.21,481.26 L185.87,476.88 L190.53,472.55 L195.19,468.27 L199.85,464.07 L204.51,459.94 L211.45,453.94 L218.39,448.05 L225.33,442.26 L232.27,436.56 L239.21,430.93 L246.15,425.37 L253.09,419.86 L260.03,414.38 L261.51,413.22 L262.99,412.07 L264.47,410.93 L265.95,409.79 L267.43,408.66 L268.91,407.54 L270.39,406.41 L271.86,405.29 L275.05,403.28 L278.23,401.28 L281.41,399.31 L284.59,397.35 L287.77,395.42 L290.95,393.50 L294.13,391.61 L297.31,389.73 L300.21,388.04 L303.11,386.36 L306.01,384.71 L308.91,383.06 L311.80,381.44 L314.70,379.83 L317.60,378.23 L320.50,376.66" fill="none" stroke="#0909c4" stroke-width="2" stroke-linejoin="round"/>
<path d="M51.66,627.30 L53.67,623.67 L55.67,620.13 L57.67,616.68 L59.68,613.33 L61.68,610.09 L63.69,606.94 L65.69,603.90 L67.69,600.96 L69.37,598.58 L71.04,596.26 L72.72,594.00 L74.39,591.81 L76.07,589.68 L77.74,587.61 L79.42,585.62 L81.09,583.70 L82.95,581.74 L84.82,579.88 L86.68,578.10 L88.54,576.40 L90.40,574.78 L92.27,573.22 L94.13,571.73 L95.99,570.30 L96.35,570.03 L96.71,569.77 L97.06,569.52 L97.42,569.28 L97.77,569.04 L98.13,568.80 L98.49,568.57 L98.84,568.34 L100.74,566.40 L102.64,564.47 L104.53,562.54 L106.43,560.61 L108.33,558.68 L110.22,556.76 L112.12,554.83 L114.02,552.91 L117.39,549.47 L120.77,546.00 L124.14,542.53 L127.52,539.06 L130.90,535.63 L134.27,532.23 L137.65,528.90 L141.02,525.65 L144.86,522.02 L148.70,518.44 L152.54,514.92 L156.38,511.45 L160.22,508.03 L164.06,504.67 L167.90,501.37 L171.74,498.12 L175.28,495.22 L178.82,492.39 L182.36,489.63 L185.89,486.91 L189.43,484.20 L192.97,481.48 L196.50,478.72 L200.04,475.90 L201.11,475.03 L202.18,474.15 L203.25,473.28 L204.32,472.39 L205.39,471.51 L206.46,470.62 L207.53,469.73 L208.60,468.83 L211.39,467.25 L214.19,465.66 L216.99,464.07 L219.79,462.47 L222.58,460.87 L225.38,459.26 L228.18,457.64 L230.98,456.02 L234.61,453.89 L238.24,451.73 L241.87,449.54 L245.50,447.36 L249.13,445.18 L252.77,443.04 L256.40,440.94 L260.03,438.89 L263.38,437.06 L266.74,435.28 L270.10,433.53 L273.45,431.81 L276.81,430.09 L280.16,428.38 L283.52,426.65 L286.88,424.90 L291.08,422.69 L295.28,420.47 L299.48,418.25 L303.69,416.02 L307.89,413.79 L312.09,411.55 L316.30,409.31 L320.50,407.06" fill="none" stroke="#c41a1e" stroke-width="2" stroke-linejoin="round"/>
<path d="M51.66,627.30 L52.25,625.92 L52.84,624.57 L53.44,623.28 L54.03,622.03 L54.62,620.84 L55.21,619.72 L55.80,618.67 L56.40,617.69 L57.08,616.65 L57.77,615.67 L58.45,614.75 L59.14,613.88 L59.83,613.05 L60.51,612.24 L61.20,611.43 L61.88,610.63 L63.02,609.32 L64.16,608.06 L65.29,606.83 L66.43,605.63 L67.57,604.45 L68.70,603.29 L69.84,602.12 L70.98,600.96 L72.11,599.80 L73.24,598.67 L74.36,597.54 L75.49,596.42 L76.62,595.31 L77.75,594.19 L78.88,593.07 L80.01,591.94 L81.12,590.82 L82.23,589.71 L83.34,588.60 L84.45,587.49 L85.56,586.37 L86.67,585.23 L87.78,584.08 L88.89,582.91 L89.78,581.95 L90.67,580.97 L91.55,579.97 L92.44,578.97 L93.33,577.96 L94.22,576.96 L95.10,575.97 L95.99,575.00 L96.85,574.09 L97.70,573.17 L98.55,572.26 L99.41,571.35 L100.26,570.47 L101.12,569.60 L101.97,568.76 L102.83,567.94 L104.22,566.68 L105.62,565.47 L107.02,564.31 L108.42,563.18 L109.82,562.06 L111.22,560.93 L112.62,559.78 L114.02,558.59 L115.43,557.34 L116.85,556.06 L118.27,554.76 L119.69,553.44 L121.11,552.14 L122.53,550.85 L123.95,549.60 L125.37,548.40 L127.90,546.31 L130.44,544.27 L132.97,542.26 L135.51,540.31 L138.04,538.40 L140.58,536.55 L143.11,534.76 L145.65,533.03 L150.63,530.40 L155.62,527.76 L160.60,525.10 L165.58,522.43 L170.57,519.74 L175.55,517.04 L180.53,514.32 L185.52,511.59 L191.20,508.41 L196.88,505.14 L202.56,501.82 L208.25,498.50 L213.93,495.22 L219.61,492.02 L225.29,488.94 L230.98,486.03 L233.61,484.74 L236.24,483.48 L238.87,482.26 L241.49,481.06 L244.12,479.88 L246.75,478.73 L249.38,477.60 L252.01,476.48 L255.73,473.91 L259.45,471.37 L263.17,468.85 L266.89,466.36 L270.61,463.91 L274.33,461.48 L278.05,459.09 L281.76,456.74 L286.61,453.72 L291.45,450.74 L296.29,447.80 L301.13,444.90 L305.97,442.05 L310.82,439.25 L315.66,436.49 L320.50,433.79" fill="none" stroke="#2ee02e" stroke-width="2" stroke-linejoin="round"/>
<path d="M51.66,627.30 L52.25,626.34 L52.84,625.40 L53.44,624.47 L54.03,623.56 L54.62,622.69 L55.21,621.85 L55.80,621.06 L56.40,620.31 L57.69,618.80 L58.99,617.41 L60.29,616.11 L61.59,614.88 L62.89,613.68 L64.18,612.48 L65.48,611.26 L66.78,609.98 L67.43,609.31 L68.08,608.63 L68.74,607.95 L69.39,607.26 L70.04,606.58 L70.69,605.91 L71.35,605.25 L72.00,604.62 L72.56,604.08 L73.13,603.56 L73.69,603.04 L74.26,602.53 L74.82,602.03 L75.39,601.53 L75.95,601.05 L76.52,600.57 L77.09,600.09 L77.66,599.61 L78.23,599.14 L78.80,598.68 L79.38,598.23 L79.95,597.78 L80.52,597.34 L81.09,596.90 L81.63,596.50 L82.17,596.10 L82.70,595.71 L83.24,595.32 L83.78,594.94 L84.32,594.57 L84.86,594.20 L85.39,593.83 L86.60,593.14 L87.80,592.46 L89.01,591.78 L90.21,591.11 L91.41,590.46 L92.62,589.81 L93.82,589.17 L95.02,588.54 L96.15,587.96 L97.27,587.40 L98.39,586.85 L99.52,586.30 L100.64,585.76 L101.76,585.21 L102.89,584.66 L104.01,584.09 L105.65,583.25 L107.29,582.40 L108.93,581.55 L110.57,580.69 L112.21,579.82 L113.85,578.94 L115.50,578.06 L117.14,577.16 L118.74,576.25 L120.35,575.33 L121.96,574.40 L123.57,573.46 L125.17,572.52 L126.78,571.57 L128.39,570.61 L129.99,569.64 L131.37,568.80 L132.75,567.93 L134.13,567.06 L135.51,566.18 L136.89,565.30 L138.27,564.44 L139.64,563.59 L141.02,562.78 L146.58,559.63 L152.15,556.60 L157.71,553.67 L163.27,550.80 L168.83,547.99 L174.39,545.19 L179.95,542.39 L185.52,539.57 L191.21,536.65 L196.89,533.71 L202.58,530.78 L208.27,527.87 L213.96,525.00 L219.65,522.17 L225.34,519.42 L231.03,516.75 L236.11,514.43 L241.19,512.13 L246.26,509.86 L251.34,507.64 L256.42,505.48 L261.49,503.38 L266.57,501.36 L271.65,499.43 L277.76,497.19 L283.86,495.01 L289.97,492.89 L296.07,490.85 L302.18,488.88 L308.29,486.99 L314.39,485.19 L320.50,483.48" fill="none" stroke="#000000" stroke-width="2" stroke-linejoin="round"/>
<rect x="54.5" y="369.5" width="108.00" height="65.00" fill="#fff" stroke="#a0a0a0" stroke-width="1"/>
<line x1="58.3" y1="377.80" x2="77" y2="377.80" stroke="#0909c4" stroke-width="2"/>
<text x="78.7" y="382.70" font-size="13.5">7−stem shrub</text>
<line x1="58.3" y1="393.75" x2="77" y2="393.75" stroke="#c41a1e" stroke-width="2"/>
<text x="78.7" y="398.65" font-size="13.5">5−stem shrub</text>
<line x1="58.3" y1="409.70" x2="77" y2="409.70" stroke="#2ee02e" stroke-width="2"/>
<text x="78.7" y="414.60" font-size="13.5">3−stem shrub</text>
<line x1="58.3" y1="425.65" x2="77" y2="425.65" stroke="#000000" stroke-width="2"/>
<text x="78.7" y="430.55" font-size="13.5">tree</text>
<path d="M416.50,362.60V628.50H697.30" fill="none" stroke="#8c8c8c" stroke-width="1"/>
<path d="M416.50,628.50h3M416.50,562.02h3M416.50,495.55h3M416.50,429.07h3M416.50,362.60h3M416.50,628.50v-2.7M472.66,628.50v-2.7M528.82,628.50v-2.7M584.98,628.50v-2.7M641.14,628.50v-2.7M697.30,628.50v-2.7" fill="none" stroke="#8c8c8c" stroke-width="1"/>
<text x="414.50" y="633.60" text-anchor="end" font-size="13.3">0</text>
<text x="414.50" y="567.12" text-anchor="end" font-size="13.3">50</text>
<text x="414.50" y="500.65" text-anchor="end" font-size="13.3">100</text>
<text x="414.50" y="434.18" text-anchor="end" font-size="13.3">150</text>
<text x="414.50" y="367.70" text-anchor="end" font-size="13.3">200</text>
<text x="416.50" y="642.30" text-anchor="middle" font-size="13.3">0</text>
<text x="472.66" y="642.30" text-anchor="middle" font-size="13.3">100</text>
<text x="528.82" y="642.30" text-anchor="middle" font-size="13.3">200</text>
<text x="584.98" y="642.30" text-anchor="middle" font-size="13.3">300</text>
<text x="641.14" y="642.30" text-anchor="middle" font-size="13.3">400</text>
<text x="697.30" y="642.30" text-anchor="middle" font-size="13.3">500</text>
<path d="M416.78,618.74 L416.78,609.44 L426.89,609.44 L426.89,572.21 L487.54,572.21 L487.54,460.53 L697.30,460.53" fill="none" stroke="#0909c4" stroke-width="2" stroke-linejoin="round"/>
<path d="M416.78,618.74 L416.78,614.75 L423.41,614.75 L423.41,588.16 L467.21,588.16 L467.21,508.40 L697.30,508.40" fill="none" stroke="#c41a1e" stroke-width="2" stroke-linejoin="round"/>
<path d="M416.78,622.73 L416.78,619.41 L420.99,619.41 L420.99,604.12 L446.60,604.12 L446.60,556.26 L625.19,556.26 L625.19,412.67 L697.30,412.67" fill="none" stroke="#2ee02e" stroke-width="2" stroke-linejoin="round"/>
<path d="M416.78,625.39 L417.17,620.07 L426.61,620.07 L426.61,604.12 L486.14,604.12 L486.14,556.26 L697.30,556.26" fill="none" stroke="#000000" stroke-width="2" stroke-linejoin="round"/>
<rect x="419.5" y="365.5" width="106.50" height="65.00" fill="#fff" stroke="#a0a0a0" stroke-width="1"/>
<line x1="423" y1="374.50" x2="440.9" y2="374.50" stroke="#0909c4" stroke-width="2"/>
<text x="442.4" y="379.40" font-size="13.5">7−stem shrub</text>
<line x1="423" y1="390.20" x2="440.9" y2="390.20" stroke="#c41a1e" stroke-width="2"/>
<text x="442.4" y="395.10" font-size="13.5">5−stem shrub</text>
<line x1="423" y1="405.90" x2="440.9" y2="405.90" stroke="#2ee02e" stroke-width="2"/>
<text x="442.4" y="410.80" font-size="13.5">3−stem shrub</text>
<line x1="423" y1="421.60" x2="440.9" y2="421.60" stroke="#000000" stroke-width="2"/>
<text x="442.4" y="426.50" font-size="13.5">tree</text>
<text transform="translate(9.8,163.4) rotate(-90)" text-anchor="middle" font-size="13.2">Height of tree or shrub (cm)</text>
<text transform="translate(390.7,159.65) rotate(-90)" text-anchor="middle" font-size="13.7">Total cross−sectional area at stem base(s) (cm<tspan font-size="10.5" dx="-0.9" dy="-6.5">2</tspan><tspan dy="6.5">)</tspan></text>
<text transform="translate(14.0,495.65) rotate(-90)" text-anchor="middle" font-size="13.55">Bark (epidermis) area of tree or shrub (cm<tspan font-size="10.5" dx="-0.9" dy="-6.5">2</tspan><tspan dy="6.5">)</tspan></text>
<text transform="translate(386.2,495.2) rotate(-90)" text-anchor="middle" font-size="13.3">Number of twigs</text>
<text x="179.6" y="327.7" text-anchor="middle" font-size="13.3">Volume (cm<tspan font-size="10.5" dx="-0.9" dy="-6">3</tspan><tspan dy="6">)</tspan></text>
<text x="554.7" y="327.6" text-anchor="middle" font-size="13.3">Volume (cm<tspan font-size="10.5" dx="-0.9" dy="-6">3</tspan><tspan dy="6">)</tspan></text>
<text x="185.6" y="659" text-anchor="middle" font-size="13.3">Volume (cm<tspan font-size="10.5" dx="-0.9" dy="-6">3</tspan><tspan dy="6">)</tspan></text>
<text x="556.4" y="659" text-anchor="middle" font-size="13.3">Volume (cm<tspan font-size="10.5" dx="-0.9" dy="-6">3</tspan><tspan dy="6">)</tspan></text>
<text x="3" y="9.8" font-size="11" font-weight="bold">A</text>
<text x="383.4" y="9.9" font-size="11" font-weight="bold">B</text>
<text x="3" y="350.4" font-size="11" font-weight="bold">C</text>
<text x="383.4" y="350.3" font-size="11" font-weight="bold">D</text>
</g>
</svg></body></html>
